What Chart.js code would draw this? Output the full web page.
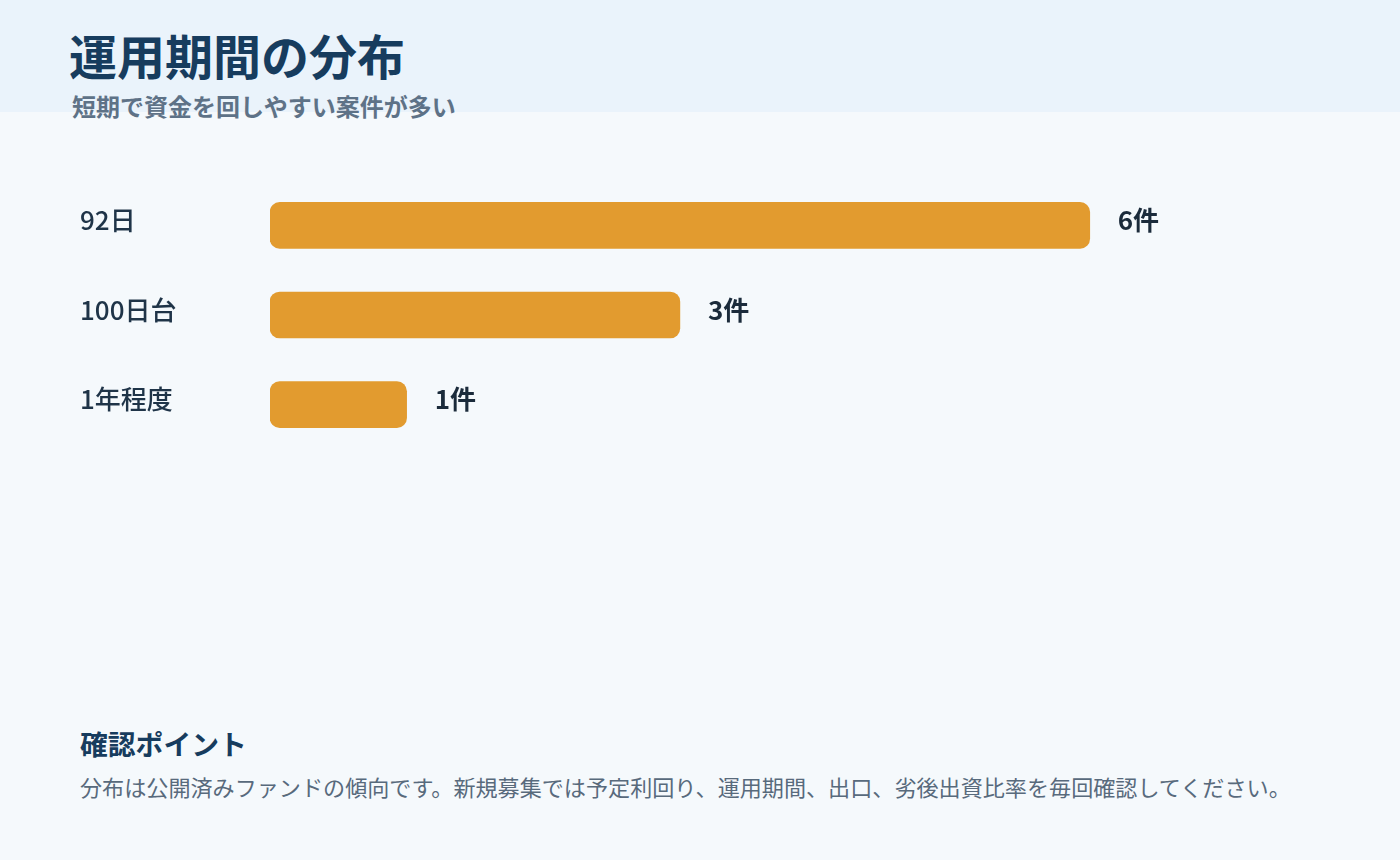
<!DOCTYPE html>
<html lang="ja">
<head>
<meta charset="utf-8">
<script src="https://cdn.jsdelivr.net/npm/chart.js@4.4.1/dist/chart.umd.min.js"></script>
<style>
  html, body { margin: 0; padding: 0; }
  body { width: 1400px; height: 860px; background: #F5F9FC; position: relative; overflow: hidden;
         font-family: "Noto Sans CJK JP", "Noto Sans", sans-serif; }
  .band { position: absolute; left: 0; top: 0; width: 1400px; height: 112px; background: #EAF3FB; }
  .title { position: absolute; left: 69px; top: 26px; font-size: 48px; font-weight: 700; color: #173C5E; line-height: 1.2; white-space: nowrap; }
  .subtitle { position: absolute; left: 72px; top: 90px; font-size: 24px; font-weight: 700; color: #5E7287; line-height: 1.3; white-space: nowrap; }
  .wrap { position: absolute; left: 80px; top: 165px; width: 1283px; height: 300px; }
  .fh { position: absolute; left: 80px; top: 725px; font-size: 27.8px; font-weight: 700; color: #173C5E; line-height: 1.3; white-space: nowrap; }
  .ft { position: absolute; left: 80px; top: 772px; font-size: 22.1px; font-weight: 400; color: #586A7C; line-height: 1.3; white-space: nowrap; }
</style>
</head>
<body>
<div class="band"></div>
<div class="title">運用期間の分布</div>
<div class="subtitle">短期で資金を回しやすい案件が多い</div>
<div class="wrap"><canvas id="c" width="1283" height="300"></canvas></div>
<div class="fh">確認ポイント</div>
<div class="ft">分布は公開済みファンドの傾向です。新規募集では予定利回り、運用期間、出口、劣後出資比率を毎回確認してください。</div>
<script>
const categories = ["92日", "100日台", "1年程度"];
const counts = [6, 3, 1];
const valueLabels = ["6件", "3件", "1件"];

const valuePlugin = {
  id: 'valueLabels',
  afterDatasetsDraw(chart) {
    const ctx = chart.ctx;
    const meta = chart.getDatasetMeta(0);
    ctx.save();
    ctx.font = '700 26px "Noto Sans CJK JP", sans-serif';
    ctx.fillStyle = '#1B2B3B';
    ctx.textAlign = 'left';
    ctx.textBaseline = 'middle';
    meta.data.forEach((bar, i) => {
      ctx.fillText(valueLabels[i], bar.x + 28, bar.y - 5);
    });
    ctx.restore();
  }
};

new Chart(document.getElementById('c'), {
  type: 'bar',
  data: {
    labels: categories,
    datasets: [{
      data: counts,
      backgroundColor: '#E29B2F',
      borderRadius: 10,
      borderSkipped: false,
      barThickness: 46
    }]
  },
  options: {
    indexAxis: 'y',
    responsive: false,
    animation: false,
    layout: { padding: 0 },
    plugins: { legend: { display: false }, tooltip: { enabled: false } },
    scales: {
      x: { display: false, min: 0, max: 8 },
      y: {
        grid: { display: false },
        border: { display: false },
        afterFit(scale) { scale.width = 190; },
        ticks: {
          crossAlign: 'far',
          padding: 0,
          labelOffset: -5,
          color: '#1F3448',
          font: { family: '"Noto Sans CJK JP", sans-serif', size: 26, weight: 500 }
        }
      }
    }
  },
  plugins: [valuePlugin]
});
</script>
</body>
</html>
